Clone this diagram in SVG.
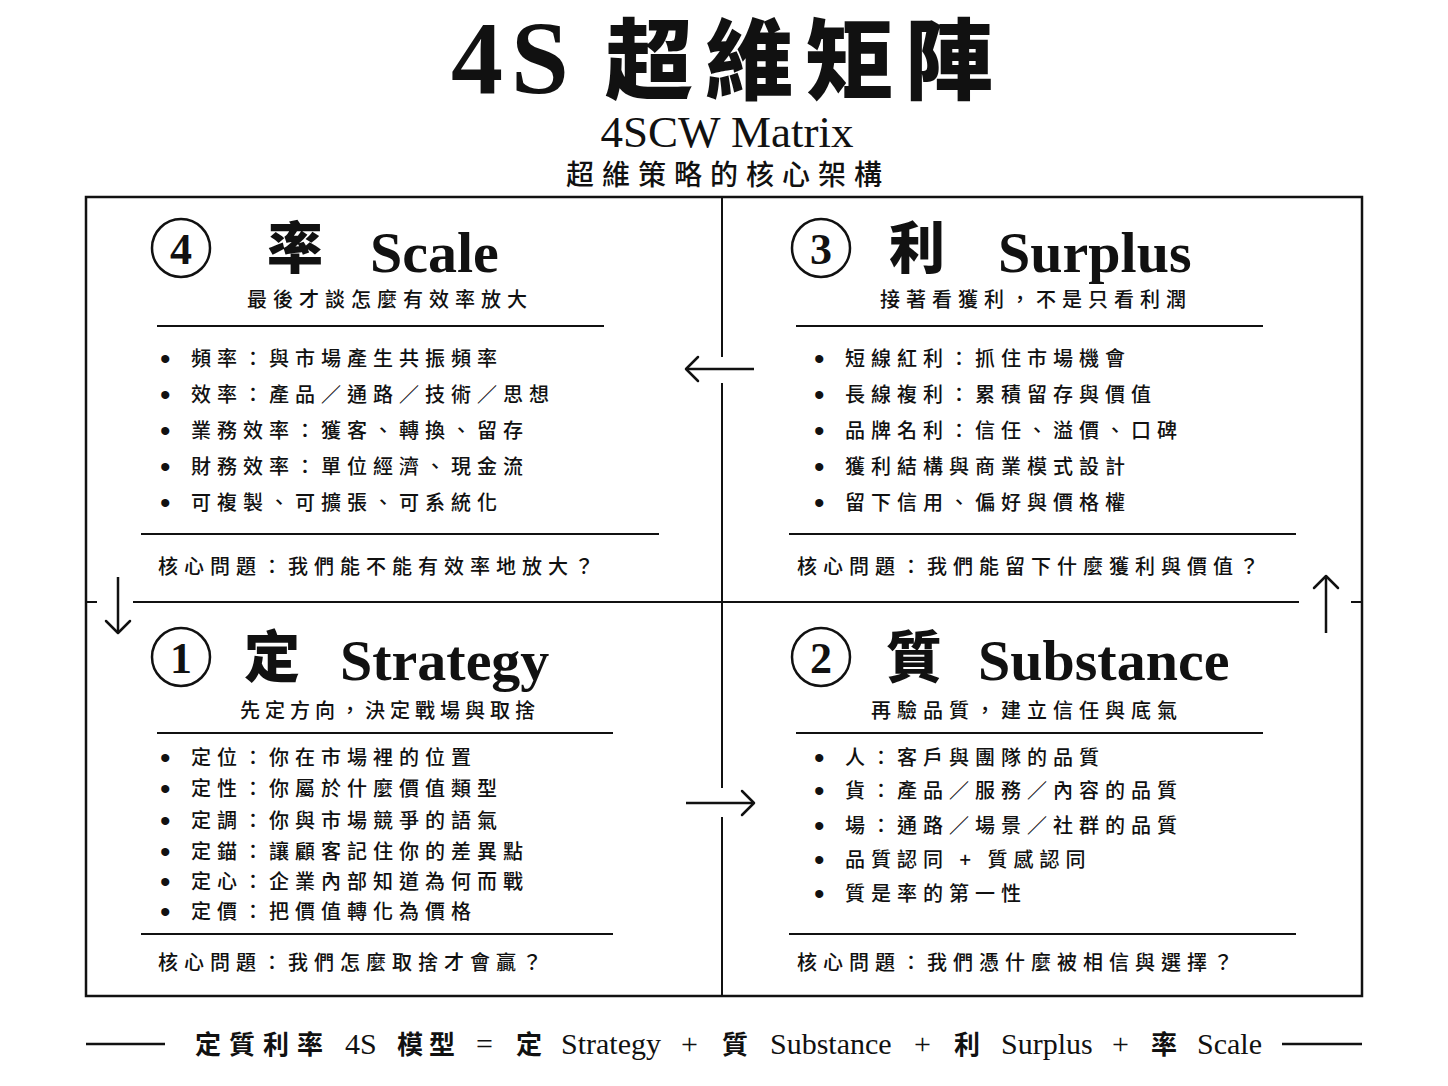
<svg xmlns="http://www.w3.org/2000/svg" width="1448" height="1086" viewBox="0 0 1448 1086">
<style>
  .cjk { font-family: "Noto Sans CJK TC", "Noto Sans CJK SC", sans-serif; fill: #111; }
  .serif { font-family: "Liberation Serif", "Noto Sans CJK TC", serif; fill: #111; }
  .body { font-size: 20px; letter-spacing: 6px; font-weight: 500; }
  .sub { font-size: 20px; letter-spacing: 6px; font-weight: 500; text-anchor: middle; }
  .bullet { font-family: "Liberation Sans", sans-serif; font-size: 30px; fill: #111; }
  .head-cjk { font-size: 56px; font-weight: 900; }
  .head-en { font-size: 58px; font-weight: 700; }
  .num { font-size: 44px; font-weight: 700; text-anchor: middle; }
  .ring { fill: none; stroke: #111; stroke-width: 2.5; }
  .rule { stroke: #111; stroke-width: 2; fill: none; }
  .frame { stroke: #111; stroke-width: 2.5; fill: none; }
  .arrow { stroke: #111; stroke-width: 2.5; fill: none; marker-end: url(#head); }
  .foot-cjk { font-size: 26px; font-weight: 700; }
  .foot-en { font-size: 30px; }
</style>
<defs>
  <marker id="head" viewBox="0 0 16 28" refX="14" refY="14" markerWidth="16" markerHeight="28" markerUnits="userSpaceOnUse" orient="auto">
    <path d="M2,2 L14,14 L2,26" fill="none" stroke="#111" stroke-width="2.5" stroke-linecap="round" stroke-linejoin="round"/>
  </marker>
</defs>
<rect width="1448" height="1086" fill="#ffffff"/>

<g id="title">
  <text class="serif" x="451" y="93" font-size="104" font-weight="700" letter-spacing="8">4S</text>
  <text class="cjk" x="605" y="92" font-size="88" font-weight="900" letter-spacing="12">超維矩陣</text>
  <text class="serif" x="727" y="147" font-size="45" text-anchor="middle">4SCW Matrix</text>
  <text class="cjk" x="728" y="185" font-size="28" letter-spacing="8" text-anchor="middle" font-weight="500">超維策略的核心架構</text>
</g>

<g id="frame">
  <rect class="frame" x="86" y="197" width="1276" height="799"/>
  <path class="rule" d="M722,197 V357 M722,383 V788 M722,817 V996"/>
  <path class="rule" d="M86,602 H97 M133,602 H1299 M1351,602 H1362"/>
</g>

<g id="q4-scale">
  <circle class="ring" cx="181" cy="248" r="29"/>
  <text class="serif num" x="181" y="264">4</text>
  <text class="cjk head-cjk" x="267" y="268">率</text>
  <text class="serif head-en" x="370" y="272">Scale</text>
  <text class="cjk sub" x="390" y="307">最後才談怎麼有效率放大</text>
  <line class="rule" x1="157" y1="326" x2="604" y2="326"/>
  <text class="bullet" x="160" y="369">•</text><text class="cjk body" x="191" y="366">頻率：與市場產生共振頻率</text>
  <text class="bullet" x="160" y="405">•</text><text class="cjk body" x="191" y="402">效率：產品／通路／技術／思想</text>
  <text class="bullet" x="160" y="441">•</text><text class="cjk body" x="191" y="438">業務效率：獲客、轉換、留存</text>
  <text class="bullet" x="160" y="477">•</text><text class="cjk body" x="191" y="474">財務效率：單位經濟、現金流</text>
  <text class="bullet" x="160" y="513">•</text><text class="cjk body" x="191" y="510">可複製、可擴張、可系統化</text>
  <line class="rule" x1="141" y1="534" x2="659" y2="534"/>
  <text class="cjk body" x="158" y="574">核心問題：我們能不能有效率地放大？</text>
</g>

<g id="q3-surplus">
  <circle class="ring" cx="821" cy="248" r="29"/>
  <text class="serif num" x="821" y="264">3</text>
  <text class="cjk head-cjk" x="889" y="268">利</text>
  <text class="serif head-en" x="998" y="272">Surplus</text>
  <text class="cjk sub" x="1036" y="307">接著看獲利，不是只看利潤</text>
  <line class="rule" x1="796" y1="326" x2="1263" y2="326"/>
  <text class="bullet" x="814" y="369">•</text><text class="cjk body" x="845" y="366">短線紅利：抓住市場機會</text>
  <text class="bullet" x="814" y="405">•</text><text class="cjk body" x="845" y="402">長線複利：累積留存與價值</text>
  <text class="bullet" x="814" y="441">•</text><text class="cjk body" x="845" y="438">品牌名利：信任、溢價、口碑</text>
  <text class="bullet" x="814" y="477">•</text><text class="cjk body" x="845" y="474">獲利結構與商業模式設計</text>
  <text class="bullet" x="814" y="513">•</text><text class="cjk body" x="845" y="510">留下信用、偏好與價格權</text>
  <line class="rule" x1="789" y1="534" x2="1296" y2="534"/>
  <text class="cjk body" x="797" y="574">核心問題：我們能留下什麼獲利與價值？</text>
</g>

<g id="q1-strategy">
  <circle class="ring" cx="181" cy="657" r="29"/>
  <text class="serif num" x="181" y="673">1</text>
  <text class="cjk head-cjk" x="244" y="677">定</text>
  <text class="serif head-en" x="340" y="680">Strategy</text>
  <text class="cjk sub" x="390" y="718" style="letter-spacing:5px">先定方向，決定戰場與取捨</text>
  <line class="rule" x1="157" y1="733" x2="613" y2="733"/>
  <text class="bullet" x="160" y="768">•</text><text class="cjk body" x="191" y="765">定位：你在市場裡的位置</text>
  <text class="bullet" x="160" y="799">•</text><text class="cjk body" x="191" y="796">定性：你屬於什麼價值類型</text>
  <text class="bullet" x="160" y="831">•</text><text class="cjk body" x="191" y="828">定調：你與市場競爭的語氣</text>
  <text class="bullet" x="160" y="862">•</text><text class="cjk body" x="191" y="859">定錨：讓顧客記住你的差異點</text>
  <text class="bullet" x="160" y="892">•</text><text class="cjk body" x="191" y="889">定心：企業內部知道為何而戰</text>
  <text class="bullet" x="160" y="922">•</text><text class="cjk body" x="191" y="919">定價：把價值轉化為價格</text>
  <line class="rule" x1="141" y1="934" x2="613" y2="934"/>
  <text class="cjk body" x="158" y="970">核心問題：我們怎麼取捨才會贏？</text>
</g>

<g id="q2-substance">
  <circle class="ring" cx="821" cy="657" r="29"/>
  <text class="serif num" x="821" y="673">2</text>
  <text class="cjk head-cjk" x="886" y="677">質</text>
  <text class="serif head-en" x="978" y="680">Substance</text>
  <text class="cjk sub" x="1027" y="718">再驗品質，建立信任與底氣</text>
  <line class="rule" x1="796" y1="733" x2="1263" y2="733"/>
  <text class="bullet" x="814" y="768">•</text><text class="cjk body" x="845" y="765">人：客戶與團隊的品質</text>
  <text class="bullet" x="814" y="801">•</text><text class="cjk body" x="845" y="798">貨：產品／服務／內容的品質</text>
  <text class="bullet" x="814" y="836">•</text><text class="cjk body" x="845" y="833">場：通路／場景／社群的品質</text>
  <text class="bullet" x="814" y="870">•</text><text class="cjk body" x="845" y="867">品質認同 + 質感認同</text>
  <text class="bullet" x="814" y="904">•</text><text class="cjk body" x="845" y="901">質是率的第一性</text>
  <line class="rule" x1="789" y1="934" x2="1296" y2="934"/>
  <text class="cjk body" x="797" y="970">核心問題：我們憑什麼被相信與選擇？</text>
</g>

<g id="connectors">
  <line class="arrow" x1="754" y1="369" x2="686" y2="369"/>
  <line class="arrow" x1="686" y1="803" x2="754" y2="803"/>
  <line class="arrow" x1="118" y1="577" x2="118" y2="633"/>
  <line class="arrow" x1="1326" y1="633" x2="1326" y2="576"/>
</g>

<g id="footer">
  <line class="frame" x1="86" y1="1044" x2="165" y2="1044"/>
  <line class="frame" x1="1282" y1="1044" x2="1362" y2="1044"/>
  <text class="cjk foot-cjk" x="195" y="1054" letter-spacing="8">定質利率</text>
  <text class="serif foot-en" x="345" y="1054">4S</text>
  <text class="cjk foot-cjk" x="397" y="1054" letter-spacing="6">模型</text>
  <text class="serif foot-en" x="476" y="1054">=</text>
  <text class="cjk foot-cjk" x="516" y="1054">定</text>
  <text class="serif foot-en" x="561" y="1054">Strategy</text>
  <text class="serif foot-en" x="681" y="1054">+</text>
  <text class="cjk foot-cjk" x="722" y="1054">質</text>
  <text class="serif foot-en" x="770" y="1054">Substance</text>
  <text class="serif foot-en" x="914" y="1054">+</text>
  <text class="cjk foot-cjk" x="954" y="1054">利</text>
  <text class="serif foot-en" x="1001" y="1054">Surplus</text>
  <text class="serif foot-en" x="1112" y="1054">+</text>
  <text class="cjk foot-cjk" x="1151" y="1054">率</text>
  <text class="serif foot-en" x="1197" y="1054">Scale</text>
</g>
</svg>
